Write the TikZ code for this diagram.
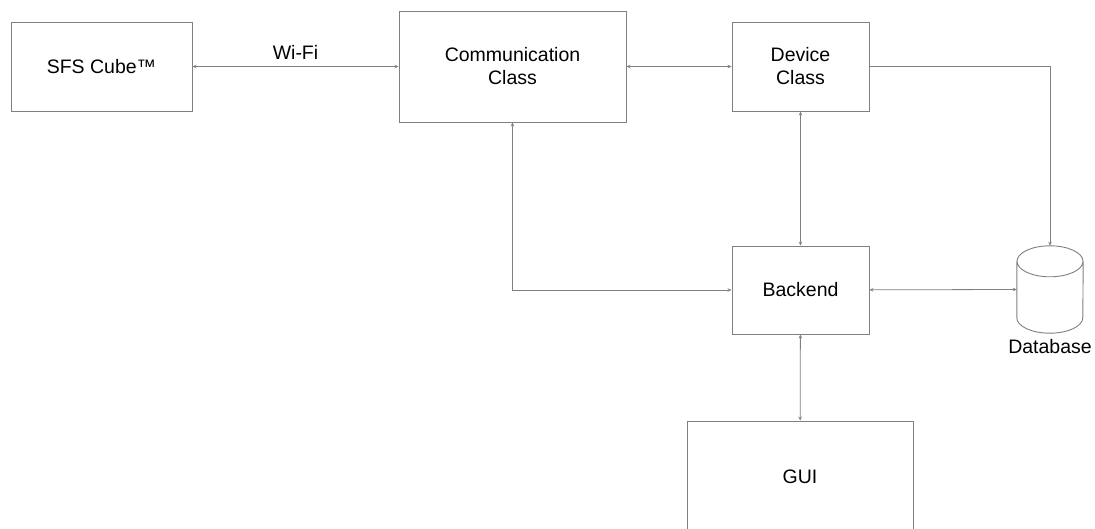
\documentclass[tikz,border=0pt]{standalone}
\usepackage{fontspec}
\setmainfont{Liberation Sans}
\usetikzlibrary{arrows.meta}

\begin{document}
\begin{tikzpicture}[x=1pt,y=-1pt,
  block/.style={draw=black!50, line width=0.9pt, align=center, inner sep=0pt},
  link/.style={draw=black!50, line width=0.8pt, {Stealth[length=4pt,width=3.5pt]}-{Stealth[length=4pt,width=3.5pt]}},
  feed/.style={draw=black!50, line width=0.8pt, -{Stealth[length=4pt,width=3.5pt]}},
  font=\fontsize{19.5}{23}\selectfont]
\newcommand{\dbry}{15.5}
\useasboundingbox (0,0) rectangle (1095,529);
\clip (0,0) rectangle (1095,529);

% Blocks
\node[block, minimum width=181pt, minimum height=89pt] (cube) at (101.5,66.5) {SFS Cube™};
\node[block, minimum width=227pt, minimum height=111pt] (comm) at (512.5,66.5) {Communication\\Class};
\node[block, minimum width=137pt, minimum height=89pt] (device) at (800.5,66.5) {Device\\Class};
\node[block, minimum width=137pt, minimum height=88pt] (backend) at (800.5,290) {Backend};
\node[block, minimum width=226pt, minimum height=111pt] (gui) at (800,476.5) {GUI};

% Database (cylinder drawn round an empty node)
\node[inner sep=0pt, minimum width=66pt, minimum height=87pt] (db) at (1050,289.5) {};
\draw[draw=black!50, line width=0.9pt]
  ([yshift=-\dbry pt]db.north) ellipse [x radius=33pt, y radius=\dbry pt]
  ([yshift=-\dbry pt]db.north west) -- ([yshift=\dbry pt]db.south west)
  arc [start angle=180, end angle=360, x radius=33pt, y radius=\dbry pt]
  -- ([yshift=-\dbry pt]db.north east);
\node[below=3pt] (dblabel) at (db.south) {Database};

% Connections
\draw[link] (cube) -- node[above=3pt] (wifi) {Wi-Fi} (comm);
\draw[link] (comm) -- (device);
\draw[link] (device) -- (backend);
\draw[link] (comm.south) |- (backend.west);
\draw[link] (backend) -- (db.west);
\draw[link] (backend) -- (gui);
\draw[feed] (device.east) -| (db.north);

\end{tikzpicture}
\end{document}
